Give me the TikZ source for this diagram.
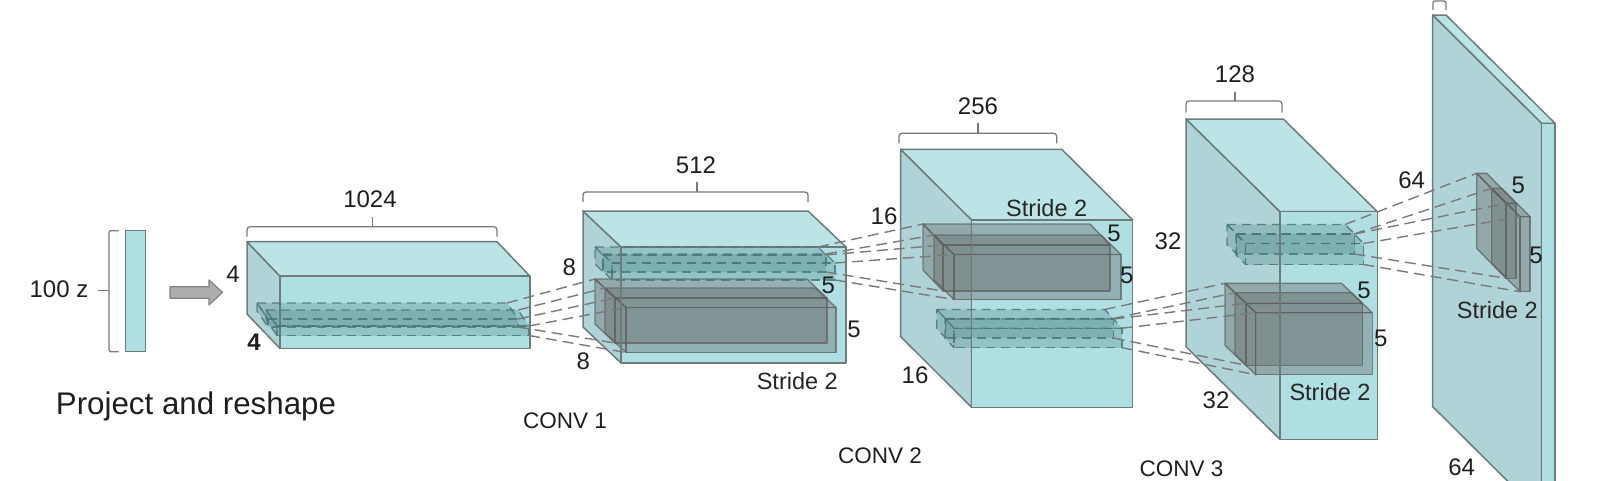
\documentclass[tikz,border=0pt]{standalone}
\usepackage{fontspec}
\setmainfont{Liberation Sans}
\definecolor{frontc}{HTML}{B0DFE3}
\definecolor{topc}{HTML}{BCE4E7}
\definecolor{leftc}{HTML}{AFD3D7}
\definecolor{edgec}{HTML}{6E7B7D}
\definecolor{brc}{HTML}{7A7A7A}
\definecolor{dashc}{HTML}{4F8587}
\definecolor{dashl}{HTML}{4A7678}
\tikzset{
  x=1pt,y=-1pt,
  lbl/.style={font=\fontsize{24}{28}\selectfont,text=black!88,inner sep=0pt},
  lblsm/.style={font=\fontsize{23.5}{28}\selectfont,text=black!85,inner sep=0pt},
  blockedge/.style={draw=edgec,line width=1.5pt,line join=round},
  blockfront/.style={blockedge,fill=frontc},
  blocktop/.style={blockedge,fill=topc},
  blockleft/.style={blockedge,fill=leftc},
  greyface/.style={draw=black!62,draw opacity=.75,line width=1.4pt,fill=black!62,fill opacity=.36,line join=round},
  dashface/.style={draw=dashl,draw opacity=.85,line width=1.4pt,dash pattern=on 9pt off 6pt,fill=dashc,fill opacity=.3,line join=round},
  link/.style={draw=black!52,line width=1.4pt,dash pattern=on 11pt off 6pt},
  bracketline/.style={draw=brc,line width=1.3pt,rounded corners=3pt},
}
% name, x, y, width, height, dx, dy
\newcommand{\cubcoords}[7]{%
  \coordinate (#1-btl) at (#2,#3);
  \coordinate (#1-btr) at ({#2+#4},#3);
  \coordinate (#1-bbl) at (#2,{#3+#5});
  \coordinate (#1-ftl) at ({#2+#6},{#3+#7});
  \coordinate (#1-ftr) at ({#2+#4+#6},{#3+#7});
  \coordinate (#1-fbl) at ({#2+#6},{#3+#5+#7});
  \coordinate (#1-fbr) at ({#2+#4+#6},{#3+#5+#7});
}
\newcommand{\blockcub}[7]{%
  \cubcoords{#1}{#2}{#3}{#4}{#5}{#6}{#7}
  \draw[blockleft] (#1-btl)--(#1-ftl)--(#1-fbl)--(#1-bbl)--cycle;
  \draw[blocktop] (#1-btl)--(#1-btr)--(#1-ftr)--(#1-ftl)--cycle;
  \draw[blockfront] (#1-ftl)--(#1-ftr)--(#1-fbr)--(#1-fbl)--cycle;
}
% style, name, x, y, w, h, dx, dy
\newcommand{\innercub}[8]{%
  \cubcoords{#2}{#3}{#4}{#5}{#6}{#7}{#8}
  \path[#1] (#2-btl)--(#2-ftl)--(#2-fbl)--(#2-bbl)--cycle;
  \path[#1] (#2-btl)--(#2-btr)--(#2-ftr)--(#2-ftl)--cycle;
  \path[#1] (#2-ftl)--(#2-ftr)--(#2-fbr)--(#2-fbl)--cycle;
}
\newcommand{\linkset}[4]{%
  \draw[link] (#1-btr)--(#3-btl);
  \draw[link] (#2-btr)--(#4-btl);
  \draw[link] (#1-ftr)--(#3-ftl);
  \draw[link] (#2-ftr)--(#4-ftl);
  \draw[link] (#1-fbr)--(#3-fbl);
  \draw[link] (#2-fbr)--(#4-fbl);
}
\newcommand{\topbracket}[6]{%
  \draw[bracketline] (#1,#4)--(#1,#3)--(#2,#3)--(#2,#4);
  \draw[draw=brc,line width=1.3pt] (#5,#3)--(#5,#6);
}
\begin{document}
\begin{tikzpicture}
\useasboundingbox (0,0) rectangle (1600,480);
\clip (0,0) rectangle (1600,480);
% latent vector
\node[draw=edgec,line width=1.4pt,fill=frontc,minimum width=20pt,minimum height=121pt,inner sep=0pt,anchor=north west] (zrect) at (125,229.5) {};
\draw[bracketline,rounded corners=2pt] (118.5,230.7)--(109,230.7)--(109,351.7)--(118.5,351.7);
\coordinate (zb) at (109,290.7);
\node[lbl,anchor=center] (zlab) at (59,289.5) {100 z};
\draw[draw=brc,line width=1.3pt] (zb)--++(-11,0);
\draw[draw=black!50,line width=1.2pt,fill=black!32,line join=round] (170,286.7)--(209,286.7)--(209,280)--(222.5,292.3)--(209,305)--(209,298.3)--(170,298.3)--cycle;
% blocks
\blockcub{b1}{247}{241.7}{250}{72.3}{33}{34.5}
\blockcub{b2}{583}{211}{225}{116}{38}{36}
\blockcub{b3}{900.7}{149.3}{161}{187.4}{71}{70.7}
\blockcub{b4}{1186}{119}{97.3}{227.7}{94}{92.7}
\blockcub{b5}{1432.7}{15}{13.3}{391.7}{109}{108.3}
% solid grey stacks
\innercub{greyface}{g2a}{595}{279}{212}{45}{20}{19}
\innercub{greyface}{g2b}{605}{288}{210}{45}{21}{19.5}
\innercub{greyface}{g3a}{923}{224}{167}{46}{20}{21}
\innercub{greyface}{g3b}{934}{235}{167}{45}{20}{19.5}
\innercub{greyface}{g4a}{1225}{283.3}{116.5}{62}{21}{20}
\innercub{greyface}{g4b}{1235}{292.7}{116.5}{62}{20.7}{20}
\innercub{greyface}{g5a}{1476.7}{173.3}{10}{75}{29.3}{30}
\innercub{greyface}{g5b}{1491.7}{188.3}{10}{75}{28.3}{28.4}
% dashed stacks
\innercub{dashface}{d1a}{257}{303}{250}{8}{11}{16}
\innercub{dashface}{d1b}{266}{310}{252}{9.5}{11}{16}
\innercub{dashface}{d2a}{595}{247}{223}{17}{8}{8}
\innercub{dashface}{d2b}{603}{254}{223}{17}{9}{9}
\innercub{dashface}{d3a}{936.7}{309.5}{168}{19}{9}{9.5}
\innercub{dashface}{d3b}{945}{318.5}{168}{19.5}{9}{9.7}
\innercub{dashface}{d4a}{1227}{224.5}{118}{20}{9.5}{9.5}
\innercub{dashface}{d4b}{1236}{234}{118}{21}{9.5}{9.5}
% block front edges stay visible through the stacks
\draw[blockedge] (b2-ftl)--(b2-fbl);
\draw[blockedge] (b3-ftl)--(b3-fbl);
\draw[blockedge] (b4-ftl)--(b4-fbl);
% connectors
\linkset{d1a}{d1b}{g2a}{g2b}
\linkset{d2a}{d2b}{g3a}{g3b}
\linkset{d3a}{d3b}{g4a}{g4b}
\linkset{d4a}{d4b}{g5a}{g5b}
% brackets
\topbracket{247}{497}{226.7}{236.7}{372.5}{216.7}
\topbracket{583}{808}{192}{202}{697}{182}
\topbracket{899}{1056.7}{133.3}{143.3}{978}{123.3}
\topbracket{1186}{1282}{101}{112.7}{1235}{91.7}
\draw[bracketline,rounded corners=2pt] (1433,10)--(1433,1)--(1446,1)--(1446,10);
% labels
\node[lbl] (l1024) at (370,199.5) {1024};
\node[lbl] (l512) at (696,165) {512};
\node[lbl] (l256) at (978,106.7) {256};
\node[lbl] (l128) at (1235,74) {128};
\node[lbl] (l4a) at (233,274) {4};
\node[lbl,font=\fontsize{24}{28}\selectfont\bfseries] (l4b) at (254,342) {4};
\node[lbl] (l8a) at (569.3,267.3) {8};
\node[lbl] (l8b) at (583.3,361.7) {8};
\node[lbl] (l5a) at (828.3,285) {5};
\node[lbl] (l5b) at (854,329) {5};
\node[lblsm] (ls1) at (797.3,380.7) {Stride 2};
\node[lbl] (l16a) at (884,216) {16};
\node[lbl] (l16b) at (915,375) {16};
\node[lblsm] (ls2) at (1046.7,208.3) {Stride 2};
\node[lbl] (l5c) at (1114,233) {5};
\node[lbl] (l5d) at (1126.7,275) {5};
\node[lbl] (l32a) at (1168,241.7) {32};
\node[lbl] (l32b) at (1216,400) {32};
\node[lbl] (l5e) at (1364,290) {5};
\node[lbl] (l5f) at (1380.7,338.3) {5};
\node[lblsm] (ls3) at (1330,391.7) {Stride 2};
\node[lbl] (l64a) at (1411.7,180) {64};
\node[lbl] (l64b) at (1461.7,467) {64};
\node[lbl] (l5g) at (1518.3,185.7) {5};
\node[lbl] (l5h) at (1536,255) {5};
\node[lblsm] (ls4) at (1497.3,310) {Stride 2};
\node[lbl,font=\fontsize{22.5}{28}\selectfont] (lc1) at (565,421) {CONV 1};
\node[lbl,font=\fontsize{22.5}{28}\selectfont] (lc2) at (880,456) {CONV 2};
\node[lbl,font=\fontsize{22.5}{28}\selectfont] (lc3) at (1181.6,469) {CONV 3};
\node[lbl,font=\fontsize{31.3}{36}\selectfont] (lpr) at (196,406.5) {Project and reshape};
\end{tikzpicture}
\end{document}
